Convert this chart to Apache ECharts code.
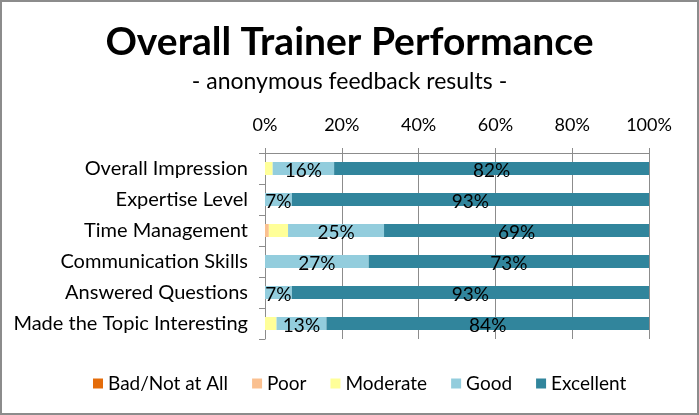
<!DOCTYPE html>
<html><head><meta charset="utf-8">
<script src="https://cdn.jsdelivr.net/npm/echarts@6/dist/echarts.min.js"></script>
<style>
html,body{margin:0;padding:0;background:#fff;}
#c{width:699px;height:415px;box-sizing:border-box;border:2px solid #8c8c8c;}
</style></head><body>
<div id="c"></div>
<script>
const categories = ["Overall Impression","Expertise Level","Time Management","Communication Skills","Answered Questions","Made the Topic Interesting"];
const bad = [0,0,0,0,0,0];
const poor = [0,0,1,0,0,0];
const moderate = [2,0,5,0,0,3];
const good = [16,7,25,27,7,13];
const excellent = [82,93,69,73,93,84];
const tickLabels = ["0%","20%","40%","60%","80%","100%"];

const FONT = 'Lato';
const chart = echarts.init(document.getElementById('c'));
function mk(name, data, color, showLabel){
  return {
    name, type:'bar', stack:'s', data, barWidth:13,
    itemStyle:{color},
    label:{show:showLabel, position:'inside', formatter:'{c}%', color:'#000', fontFamily:FONT, fontSize:19, offset:[0,2]},
    emphasis:{disabled:true}
  };
}
chart.setOption({
  animation:false,
  textStyle:{fontFamily:FONT},
  title:[
    {text:'Overall Trainer Performance', left:'center', top:16, textStyle:{fontFamily:FONT, fontWeight:'bold', fontSize:39, color:'#000'}},
    {text:'- anonymous feedback results -', left:'center', top:63, textStyle:{fontFamily:FONT, fontWeight:'normal', fontSize:23, color:'#000'}}
  ],
  legend:{
    top:367, left:86, itemWidth:10, itemHeight:10, itemGap:24, icon:'rect',
    textStyle:{fontFamily:FONT, fontSize:19, color:'#000'},
    data:['Bad/Not at All','Poor','Moderate','Good','Excellent']
  },
  grid:{left:263, right:48, top:151, bottom:74, containLabel:false},
  xAxis:{
    type:'value', position:'top', min:0, max:100, interval:20,
    axisLabel:{formatter:(v)=>tickLabels[Math.round(v/20)], fontFamily:FONT, fontSize:18, color:'#000', margin:19},
    splitLine:{lineStyle:{color:'#8c8c8c'}},
    axisLine:{show:true, lineStyle:{color:'#8c8c8c'}},
    axisTick:{show:true, length:5, lineStyle:{color:'#8c8c8c'}}
  },
  yAxis:{
    type:'category', data:categories, inverse:true,
    axisLine:{show:true, lineStyle:{color:'#8c8c8c'}},
    axisTick:{show:true, length:6, lineStyle:{color:'#8c8c8c'}},
    axisLabel:{fontFamily:FONT, fontSize:20, color:'#000', margin:17}
  },
  series:[
    mk('Bad/Not at All', bad, '#E46C0A', false),
    mk('Poor', poor, '#FAC090', false),
    mk('Moderate', moderate, '#FFFF99', false),
    mk('Good', good, '#93CDDD', true),
    mk('Excellent', excellent, '#31859C', true)
  ]
});
</script></body></html>
